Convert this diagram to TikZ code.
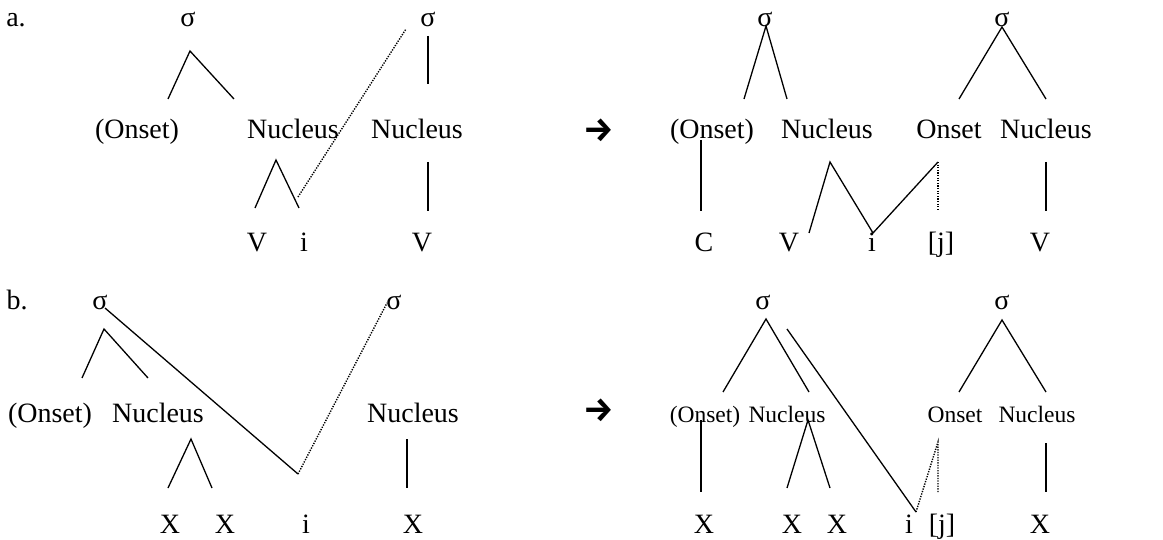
\documentclass[tikz,border=0pt]{standalone}
\usepackage{fontspec}
\setmainfont{Liberation Serif}
\newfontfamily\myarrowfont{Fira Sans}
\newcommand\mybigfont{\fontsize{28}{34}\selectfont}
\newcommand\mysmallfont{\fontsize{23.5}{28}\selectfont}
\tikzset{
  lbl/.style={anchor=base, inner sep=0pt, font=\mybigfont},
  slbl/.style={anchor=base, inner sep=0pt, font=\mysmallfont},
  arr/.style={anchor=center, inner sep=0pt, font=\myarrowfont\bfseries\fontsize{34}{38}\selectfont},
  ln/.style={line width=1.3pt},
  dt/.style={line width=1.4pt, dash pattern=on 1.3pt off 1.3pt},
}
\begin{document}
\begin{tikzpicture}[x=1pt,y=-1pt]
\useasboundingbox (0,0) rectangle (1163,540);
% ---------- a. left ----------
\node[lbl] (la) at (16,27) {a.};
\node[lbl] (sA1) at (188,27) {σ};
\node[lbl] (sA2) at (428,27) {σ};
\node[lbl] (onA1) at (137,139) {(Onset)};
\node[lbl] (nuA1) at (293,139) {Nucleus};
\node[lbl] (nuA2) at (417,139) {Nucleus};
\node[lbl] (vA1) at (257,252) {V};
\node[lbl] (iA1) at (304,252) {i};
\node[lbl] (vA2) at (422,252) {V};
\coordinate (a1) at (190,51);
\coordinate (a2) at (168,99);
\coordinate (a3) at (234,99);
\coordinate (a4) at (428,36);
\coordinate (a5) at (428,84);
\coordinate (a6) at (276,160);
\coordinate (a7) at (255,208);
\coordinate (a8) at (299,208);
\coordinate (a9) at (406,29);
\coordinate (a10) at (298,197);
\coordinate (a11) at (428,162);
\coordinate (a12) at (428,211);
\draw[ln] (a2) -- (a1) -- (a3);
\draw[ln] (a4) -- (a5);
\draw[ln] (a7) -- (a6) -- (a8);
\draw[dt] (a10) -- (a9);
\draw[ln] (a11) -- (a12);
% ---------- a. right ----------
\node[arr] (arA) at (599,130) {→};
\node[lbl] (sA3) at (765,27) {σ};
\node[lbl] (sA4) at (1002,27) {σ};
\node[lbl] (onA2) at (712,139) {(Onset)};
\node[lbl] (nuA3) at (827,139) {Nucleus};
\node[lbl] (onA3) at (949,139) {Onset};
\node[lbl] (nuA4) at (1046,139) {Nucleus};
\node[lbl] (cA) at (704,252) {C};
\node[lbl] (vA3) at (789,252) {V};
\node[lbl] (iA2) at (872,252) {i};
\node[lbl] (jA) at (941,252) {[j]};
\node[lbl] (vA4) at (1040,252) {V};
\coordinate (b1) at (766,26);
\coordinate (b2) at (744,99);
\coordinate (b3) at (787,99);
\coordinate (b4) at (1002,27);
\coordinate (b5) at (959,99);
\coordinate (b6) at (1046,99);
\coordinate (b7) at (701,140);
\coordinate (b8) at (701,211);
\coordinate (b9) at (809,233);
\coordinate (b10) at (830,162);
\coordinate (b11) at (873,233);
\coordinate (b12) at (938,162);
\coordinate (b13) at (938,211);
\coordinate (b14) at (1046,162);
\coordinate (b15) at (1046,211);
\draw[ln] (b2) -- (b1) -- (b3);
\draw[ln] (b5) -- (b4) -- (b6);
\draw[ln] (b7) -- (b8);
\draw[ln] (b9) -- (b10) -- (b11) -- (b12);
\draw[dt] (b12) -- (b13);
\draw[ln] (b14) -- (b15);
% ---------- b. left ----------
\node[lbl] (lb) at (17,309) {b.};
\node[lbl] (sB1) at (100,309) {σ};
\node[lbl] (sB2) at (394,309) {σ};
\node[lbl] (onB1) at (50,422) {(Onset)};
\node[lbl] (nuB1) at (158,422) {Nucleus};
\node[lbl] (nuB2) at (413,422) {Nucleus};
\node[lbl] (xB1) at (170,533) {X};
\node[lbl] (xB2) at (225,533) {X};
\node[lbl] (iB1) at (306,533) {i};
\node[lbl] (xB3) at (413,533) {X};
\coordinate (c1) at (105,308);
\coordinate (c2) at (298,474);
\coordinate (c3) at (387,303);
\coordinate (c4) at (104,329);
\coordinate (c5) at (82,378);
\coordinate (c6) at (148,378);
\coordinate (c7) at (191,439);
\coordinate (c8) at (168,488);
\coordinate (c9) at (212,488);
\coordinate (c10) at (407,439);
\coordinate (c11) at (407,488);
\draw[ln] (c1) -- (c2);
\draw[dt] (c2) -- (c3);
\draw[ln] (c5) -- (c4) -- (c6);
\draw[ln] (c8) -- (c7) -- (c9);
\draw[ln] (c10) -- (c11);
% ---------- b. right ----------
\node[arr] (arB) at (599,410) {→};
\node[lbl] (sB3) at (763,309) {σ};
\node[lbl] (sB4) at (1002,309) {σ};
\node[slbl] (onB2) at (705,422) {(Onset)};
\node[slbl] (nuB3) at (787,422) {Nucleus};
\node[slbl] (onB3) at (955,422) {Onset};
\node[slbl] (nuB4) at (1037,422) {Nucleus};
\node[lbl] (xB4) at (704,533) {X};
\node[lbl] (xB5) at (792,533) {X};
\node[lbl] (xB6) at (837,533) {X};
\node[lbl] (iB2) at (909,533) {i};
\node[lbl] (jB) at (942,533) {[j]};
\node[lbl] (xB7) at (1040,533) {X};
\coordinate (d1) at (766,319);
\coordinate (d2) at (723,392);
\coordinate (d3) at (809,392);
\coordinate (d4) at (787,329);
\coordinate (d5) at (916,512);
\coordinate (d6) at (938,442);
\coordinate (d7) at (938,492);
\coordinate (d8) at (701,420);
\coordinate (d9) at (701,492);
\coordinate (d10) at (808,420);
\coordinate (d11) at (787,488);
\coordinate (d12) at (830,488);
\coordinate (d13) at (1002,320);
\coordinate (d14) at (959,392);
\coordinate (d15) at (1046,392);
\coordinate (d16) at (1046,443);
\coordinate (d17) at (1046,492);
\draw[ln] (d2) -- (d1) -- (d3);
\draw[ln] (d4) -- (d5);
\draw[dt] (d5) -- (d6) -- (d7);
\draw[ln] (d8) -- (d9);
\draw[ln] (d11) -- (d10) -- (d12);
\draw[ln] (d14) -- (d13) -- (d15);
\draw[ln] (d16) -- (d17);
\end{tikzpicture}
\end{document}
